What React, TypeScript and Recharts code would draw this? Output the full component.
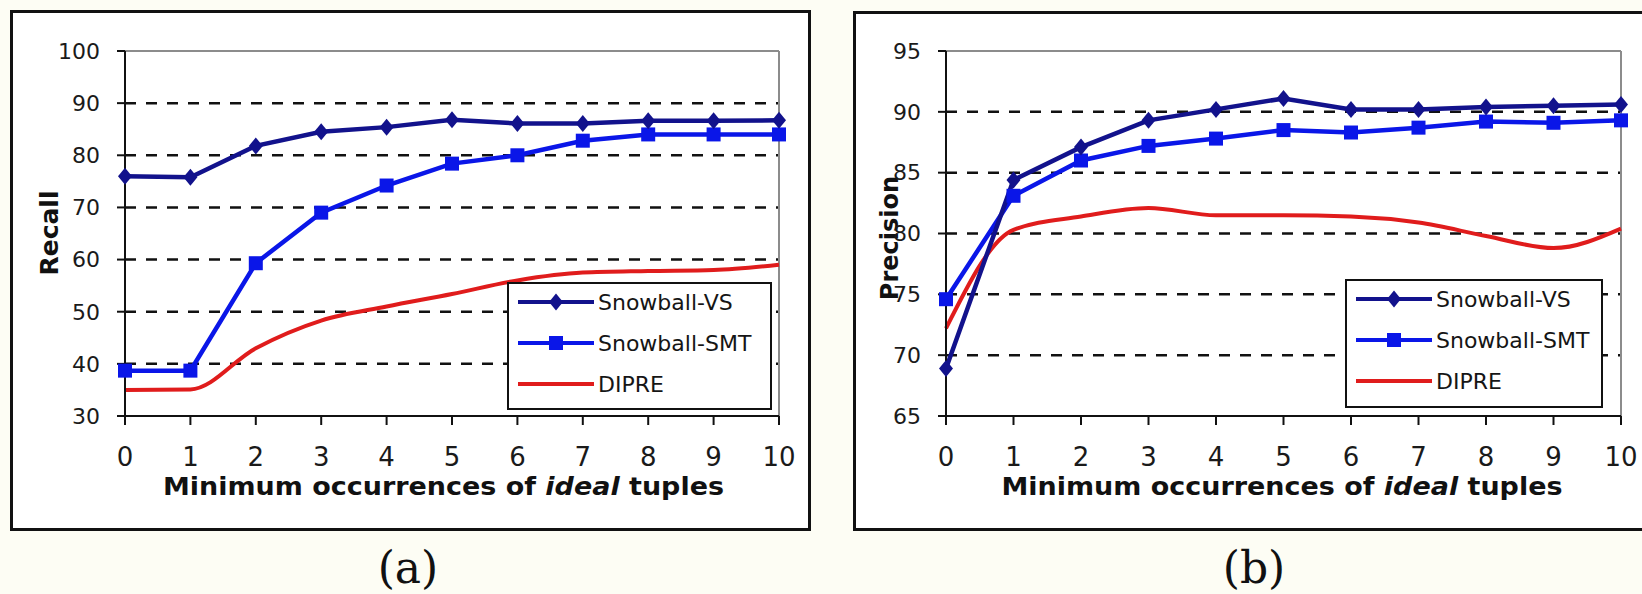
import React from 'react';
import { LineChart, Line, XAxis, YAxis, ReferenceLine, Legend, Label } from 'recharts';

// ---------- data ----------
const xValues = [0, 1, 2, 3, 4, 5, 6, 7, 8, 9, 10];

const recallVS = [76.0, 75.8, 81.8, 84.5, 85.4, 86.8, 86.1, 86.1, 86.6, 86.6, 86.7];
const recallSMT = [38.7, 38.7, 59.3, 69.0, 74.2, 78.4, 80.0, 82.8, 84.0, 84.0, 84.0];
const recallDIPRE = [35.0, 35.1, 43.0, 48.3, 51.0, 53.4, 56.0, 57.5, 57.8, 58.0, 59.0];

const precisionVS = [68.9, 84.4, 87.1, 89.3, 90.2, 91.1, 90.2, 90.2, 90.4, 90.5, 90.6];
const precisionSMT = [74.6, 83.1, 86.0, 87.2, 87.8, 88.5, 88.3, 88.7, 89.2, 89.1, 89.3];
const precisionDIPRE = [72.2, 80.3, 81.4, 82.1, 81.5, 81.5, 81.4, 80.9, 79.8, 78.8, 80.4];

const recallTicks = [30, 40, 50, 60, 70, 80, 90, 100];
const recallGrid = [40, 50, 60, 70, 80, 90];
const precisionTicks = [65, 70, 75, 80, 85, 90, 95];
const precisionGrid = [70, 75, 80, 85, 90];

const seriesNames = ['Snowball-VS', 'Snowball-SMT', 'DIPRE'];
const xTitleParts = ['Minimum occurrences of ', 'ideal', ' tuples'];
const yTitles = ['Recall', 'Precision'];
const captions = ['(a)', '(b)'];

// ---------- styles ----------
const COLORS = { vs: '#12128c', smt: '#0a16e8', dipre: '#e01c1c' };
const FONT = '"DejaVu Sans", sans-serif';

const recallData = xValues.map((x, i) => ({ x, vs: recallVS[i], smt: recallSMT[i], dipre: recallDIPRE[i] }));
const precisionData = xValues.map((x, i) => ({ x, vs: precisionVS[i], smt: precisionSMT[i], dipre: precisionDIPRE[i] }));

const DiamondDot = (props: any) => {
  const { cx, cy, index } = props;
  if (cx == null || cy == null) return <g key={`d-${index}`} />;
  return (
    <path
      key={`d-${index}`}
      d={`M${cx},${cy - 8.5}L${cx + 7},${cy}L${cx},${cy + 8.5}L${cx - 7},${cy}Z`}
      fill={COLORS.vs}
    />
  );
};

const SquareDot = (props: any) => {
  const { cx, cy, index } = props;
  if (cx == null || cy == null) return <g key={`s-${index}`} />;
  return <rect key={`s-${index}`} x={cx - 7} y={cy - 7} width={14} height={14} fill={COLORS.smt} />;
};

const LegendBox = ({ w, h }: { w: number; h: number }) => {
  const rows = [20, 61, 102];
  const colors = [COLORS.vs, COLORS.smt, COLORS.dipre];
  return (
    <svg width={w} height={h} style={{ display: 'block' }}>
      <rect x={1} y={1} width={w - 2} height={h - 2} fill="#ffffff" stroke="#111" strokeWidth={2} />
      {seriesNames.map((name, i) => {
        const y = rows[i];
        return (
          <g key={name}>
            <line x1={11} x2={87} y1={y} y2={y} stroke={colors[i]} strokeWidth={4} />
            {i === 0 && <path d={`M49,${y - 8.5}L56,${y}L49,${y + 8.5}L42,${y}Z`} fill={COLORS.vs} />}
            {i === 1 && <rect x={42} y={y - 7} width={14} height={14} fill={COLORS.smt} />}
            <text x={91} y={y + 8} fontFamily={FONT} fontSize={22} fill="#151515">
              {name}
            </text>
          </g>
        );
      })}
    </svg>
  );
};

type PanelProps = {
  data: any[];
  chartLeft: number;
  chartWidth: number;
  marginRight: number;
  yAxisWidth: number;
  domain: [number, number];
  ticks: number[];
  grid: number[];
  yTitle: string;
  yTitleX: number;
  yTitleY: number;
  yTitleSize: number;
  xTitleX: number;
  legend: { left: number; top: number; w: number; h: number };
};

function Panel(p: PanelProps) {
  return (
    <div style={{ position: 'absolute', left: p.chartLeft, top: 0 }}>
      <LineChart
        width={p.chartWidth}
        height={540}
        data={p.data}
        margin={{ top: 51, right: p.marginRight, bottom: 0, left: 0 }}
      >
        <XAxis
          dataKey="x"
          type="number"
          domain={[0, 10]}
          ticks={xValues}
          interval={0}
          height={124}
          tickSize={9}
          tickMargin={23}
          axisLine={{ stroke: '#111', strokeWidth: 2 }}
          tickLine={{ stroke: '#111', strokeWidth: 2 }}
          tick={{ fill: '#1a1a1a', fontSize: 26, fontFamily: FONT }}
        >
          <Label
            content={() => (
              <text
                x={p.xTitleX}
                y={495}
                textAnchor="middle"
                fontFamily={FONT}
                fontWeight="bold"
                fontSize={25}
                fill="#111"
                textLength={561}
                lengthAdjust="spacingAndGlyphs"
              >
                <tspan>{xTitleParts[0]}</tspan>
                <tspan fontStyle="italic">{xTitleParts[1]}</tspan>
                <tspan>{xTitleParts[2]}</tspan>
              </text>
            )}
          />
        </XAxis>
        <YAxis
          type="number"
          domain={p.domain}
          ticks={p.ticks}
          interval={0}
          width={p.yAxisWidth}
          tickSize={8}
          tickMargin={17}
          axisLine={{ stroke: '#111', strokeWidth: 2 }}
          tickLine={{ stroke: '#111', strokeWidth: 2 }}
          tick={{ fill: '#1a1a1a', fontSize: 22, fontFamily: FONT }}
        >
          <Label
            content={() => (
              <text
                x={p.yTitleX}
                y={p.yTitleY}
                transform={`rotate(-90 ${p.yTitleX} ${p.yTitleY})`}
                textAnchor="middle"
                fontFamily={FONT}
                fontWeight="bold"
                fontSize={p.yTitleSize}
                fill="#111"
              >
                {p.yTitle}
              </text>
            )}
          />
        </YAxis>
        {p.grid.map((v) => (
          <ReferenceLine key={v} y={v} stroke="#111" strokeWidth={2.5} strokeDasharray="11 10" />
        ))}
        <ReferenceLine y={p.domain[1]} stroke="#8c8c8c" strokeWidth={2} />
        <ReferenceLine x={10} stroke="#8c8c8c" strokeWidth={2} />
        <Line
          type="monotone"
          dataKey="dipre"
          name={seriesNames[2]}
          stroke={COLORS.dipre}
          strokeWidth={4}
          dot={false}
          activeDot={false}
          isAnimationActive={false}
        />
        <Line
          type="linear"
          dataKey="smt"
          name={seriesNames[1]}
          stroke={COLORS.smt}
          strokeWidth={4.5}
          dot={SquareDot}
          activeDot={false}
          isAnimationActive={false}
        />
        <Line
          type="linear"
          dataKey="vs"
          name={seriesNames[0]}
          stroke={COLORS.vs}
          strokeWidth={4.5}
          dot={DiamondDot}
          activeDot={false}
          isAnimationActive={false}
        />
        <Legend
          layout="horizontal"
          verticalAlign="middle"
          align="center"
          wrapperStyle={{
            position: 'absolute',
            left: p.legend.left,
            top: p.legend.top,
            width: p.legend.w,
            height: p.legend.h,
            margin: 0,
            padding: 0,
          }}
          content={() => <LegendBox w={p.legend.w} h={p.legend.h} />}
        />
      </LineChart>
    </div>
  );
}

export default function App() {
  return (
    <div
      style={{
        position: 'absolute',
        left: 0,
        top: 0,
        width: 1642,
        height: 594,
        background: '#fdfdf4',
        overflow: 'hidden',
      }}
    >
      <svg width={1642} height={594} style={{ position: 'absolute', left: 0, top: 0 }}>
        <rect x={11.5} y={11.5} width={798} height={518} fill="#ffffff" stroke="#111" strokeWidth={3} />
        <rect x={854.5} y={12.5} width={800} height={517} fill="#ffffff" stroke="#111" strokeWidth={3} />
        <text x={408} y={583} textAnchor="middle" fontFamily='"DejaVu Serif", serif' fontSize={44} fill="#111">
          {captions[0]}
        </text>
        <text x={1254} y={583} textAnchor="middle" fontFamily='"DejaVu Serif", serif' fontSize={44} fill="#111">
          {captions[1]}
        </text>
      </svg>
      <Panel
        data={recallData}
        chartLeft={0}
        chartWidth={830}
        marginRight={51}
        yAxisWidth={125}
        domain={[30, 100]}
        ticks={recallTicks}
        grid={recallGrid}
        yTitle={yTitles[0]}
        yTitleX={58}
        yTitleY={233}
        yTitleSize={25}
        xTitleX={443.5}
        legend={{ left: 507, top: 282, w: 265, h: 128 }}
      />
      <Panel
        data={precisionData}
        chartLeft={830}
        chartWidth={812}
        marginRight={21}
        yAxisWidth={116}
        domain={[65, 95]}
        ticks={precisionTicks}
        grid={precisionGrid}
        yTitle={yTitles[1]}
        yTitleX={68}
        yTitleY={238}
        yTitleSize={24}
        xTitleX={452}
        legend={{ left: 515, top: 279, w: 258, h: 129 }}
      />
    </div>
  );
}
